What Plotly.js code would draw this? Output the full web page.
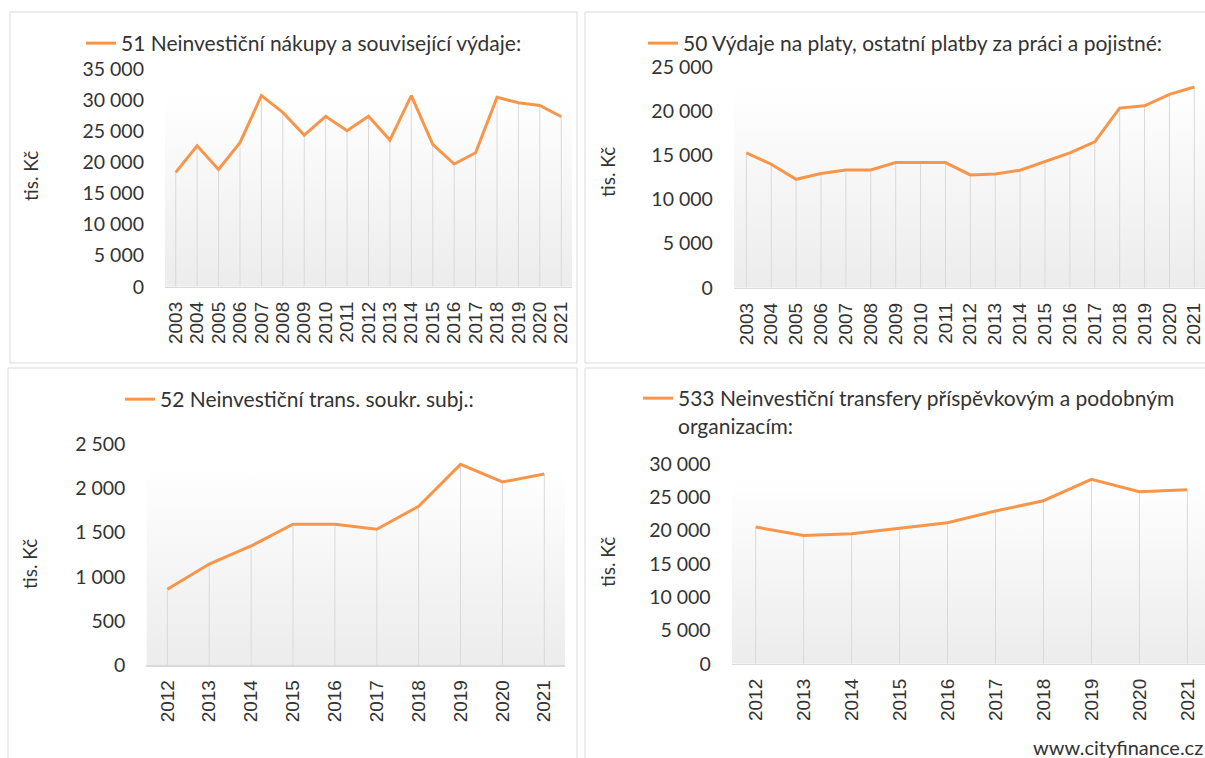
<!DOCTYPE html>
<html><head><meta charset="utf-8">
<script src="https://cdn.plot.ly/plotly-3.0.1.min.js"></script>
<style>html,body{margin:0;padding:0;background:#fff}</style>
</head><body><div id="chart" style="width:1205px;height:758px"></div>
<script>
// ---- data ----
const yearsA = [2003,2004,2005,2006,2007,2008,2009,2010,2011,2012,2013,2014,2015,2016,2017,2018,2019,2020,2021];
const yearsB = [2012,2013,2014,2015,2016,2017,2018,2019,2020,2021];
const nakupy51 = [18380,22670,18860,23150,30710,28030,24380,27390,25080,27390,23580,30710,22880,19720,21540,30440,29580,29150,27330];
const platy50 = [15260,13970,12270,12920,13330,13330,14160,14160,14160,12760,12880,13290,14270,15260,16500,20320,20580,21870,22700];
const transSoukr52 = [857,1144,1348,1594,1594,1537,1798,2273,2073,2164];
const transPrisp533 = [20490,19240,19490,20290,21140,22900,24450,27660,25800,26100];
const seriesNames = [
  '51 Neinvestiční nákupy a související výdaje:',
  '50 Výdaje na platy, ostatní platby za práci a pojistné:',
  '52 Neinvestiční trans. soukr. subj.:',
  '533 Neinvestiční transfery příspěvkovým a podobným<br>organizacím:'
];
const yTitle = 'tis. Kč';
const sourceText = 'www.cityfinance.cz';

// ---- layout helpers (pixel -> paper) ----
const W = 1205, H = 758;
const px = v => v / W;
const py = v => 1 - v / H;

const panels = [
  {years: yearsA, vals: nakupy51, name: seriesNames[0], ymax: 35000, dtick: 5000,
   xd: [165, 572.4], yd: [286.7, 69], firstPx: 175.7, step: 21.42,
   legend: {x: 81, y: 23}, ytitle: {x: 31, y: 176}},
  {years: yearsA, vals: platy50, name: seriesNames[1], ymax: 25000, dtick: 5000,
   xd: [733.9, 1205], yd: [287.8, 66.7], firstPx: 746.3, step: 24.89,
   legend: {x: 643, y: 23}, ytitle: {x: 608, y: 172}},
  {years: yearsB, vals: transSoukr52, name: seriesNames[2], ymax: 2500, dtick: 500,
   xd: [146.4, 565.2], yd: [665, 444.3], firstPx: 167.3, step: 41.89,
   legend: {x: 120, y: 379}, ytitle: {x: 29, y: 564}},
  {years: yearsB, vals: transPrisp533, name: seriesNames[3], ymax: 30000, dtick: 5000,
   xd: [731.7, 1205], yd: [663.7, 463.7], firstPx: 755.7, step: 47.96,
   legend: {x: 638, y: 378}, ytitle: {x: 607, y: 562}}
];

const ORANGE = '#f7964a';
const traces = [];
const layout = {
  width: W, height: H,
  margin: {l: 0, r: 0, t: 0, b: 0},
  paper_bgcolor: '#ffffff', plot_bgcolor: 'rgba(0,0,0,0)',
  separators: ', ',
  font: {family: 'Lato, "Open Sans", sans-serif', color: '#333333'},
  showlegend: true,
  shapes: [], annotations: []
};

// panel borders
const borders = [[10, 12, 577, 363], [585, 12, 1215, 363], [8, 368, 577, 770], [585, 368, 1215, 770]];
borders.forEach(b => layout.shapes.push({
  type: 'rect', xref: 'paper', yref: 'paper', layer: 'below',
  x0: px(b[0]), x1: px(b[2]), y0: py(b[3]), y1: py(b[1]),
  line: {color: '#d9d9d9', width: 1}, fillcolor: 'rgba(0,0,0,0)'
}));

panels.forEach((p, i) => {
  const n = i + 1;
  const xa = n === 1 ? 'x' : 'x' + n;
  const ya = n === 1 ? 'y' : 'y' + n;
  const lg = n === 1 ? 'legend' : 'legend' + n;
  const first = p.years[0], last = p.years[p.years.length - 1];
  const vmax = Math.max(...p.vals);
  const xLo = first - 0.5;
  const xHi = first + (p.xd[1] - p.firstPx) / p.step;

  // gradient backdrop up to the series maximum
  traces.push({
    x: [xLo, last + 0.5], y: [vmax, vmax], xaxis: xa, yaxis: ya,
    mode: 'lines', line: {width: 0}, fill: 'tozeroy',
    fillgradient: {type: 'vertical', start: 0, stop: vmax,
      colorscale: [[0, '#ececec'], [1, '#ffffff']]},
    hoverinfo: 'skip', showlegend: false
  });
  // drop lines
  const dx = [], dy = [];
  p.years.forEach((yr, k) => { dx.push(yr, yr, null); dy.push(0, p.vals[k], null); });
  traces.push({
    x: dx, y: dy, xaxis: xa, yaxis: ya, mode: 'lines',
    line: {color: '#d9d9d9', width: 1}, hoverinfo: 'skip', showlegend: false
  });
  // main series
  traces.push({
    x: p.years, y: p.vals, xaxis: xa, yaxis: ya, mode: 'lines',
    name: p.name, legend: lg,
    line: {color: ORANGE, width: 3}
  });

  layout['xaxis' + (n === 1 ? '' : n)] = {
    domain: [px(p.xd[0]), px(p.xd[1])], anchor: ya,
    range: [xLo, xHi], type: 'linear',
    tickvals: p.years, ticktext: p.years.map(String), tickangle: -90,
    ticks: '', ticklabelstandoff: 6,
    tickfont: {family: '"Liberation Sans", Arial, sans-serif', size: 19, color: '#333333'},
    showgrid: false, zeroline: false,
    showline: true, linecolor: '#d9d9d9', linewidth: 1.5, fixedrange: true
  };
  layout['yaxis' + (n === 1 ? '' : n)] = {
    domain: [py(p.yd[0]), py(p.yd[1])], anchor: xa,
    range: [0, p.ymax], dtick: p.dtick, tick0: 0, tickformat: ',d',
    ticks: '', ticklabelstandoff: 20,
    tickfont: {family: 'Lato, sans-serif', size: 19.5, color: '#333333'},
    showgrid: false, zeroline: false, showline: false, fixedrange: true
  };
  layout[lg] = {
    x: px(p.legend.x), y: py(p.legend.y), xanchor: 'left', yanchor: 'top',
    bgcolor: 'rgba(0,0,0,0)', borderwidth: 0, valign: 'top',
    font: {family: 'Lato, sans-serif', size: 21, color: '#333333'}
  };
  layout.annotations.push({
    text: yTitle, xref: 'paper', yref: 'paper',
    x: px(p.ytitle.x), y: py(p.ytitle.y), xanchor: 'center', yanchor: 'middle',
    textangle: -90, showarrow: false,
    font: {family: 'Lato, sans-serif', size: 19, color: '#333333'}
  });
});

layout.annotations.push({
  text: sourceText, xref: 'paper', yref: 'paper',
  x: 1, y: py(747), xanchor: 'right', yanchor: 'middle', showarrow: false,
  font: {family: 'Lato, sans-serif', size: 20, color: '#333333'}
});

Plotly.newPlot('chart', traces, layout, {displayModeBar: false, staticPlot: true});
</script></body></html>
